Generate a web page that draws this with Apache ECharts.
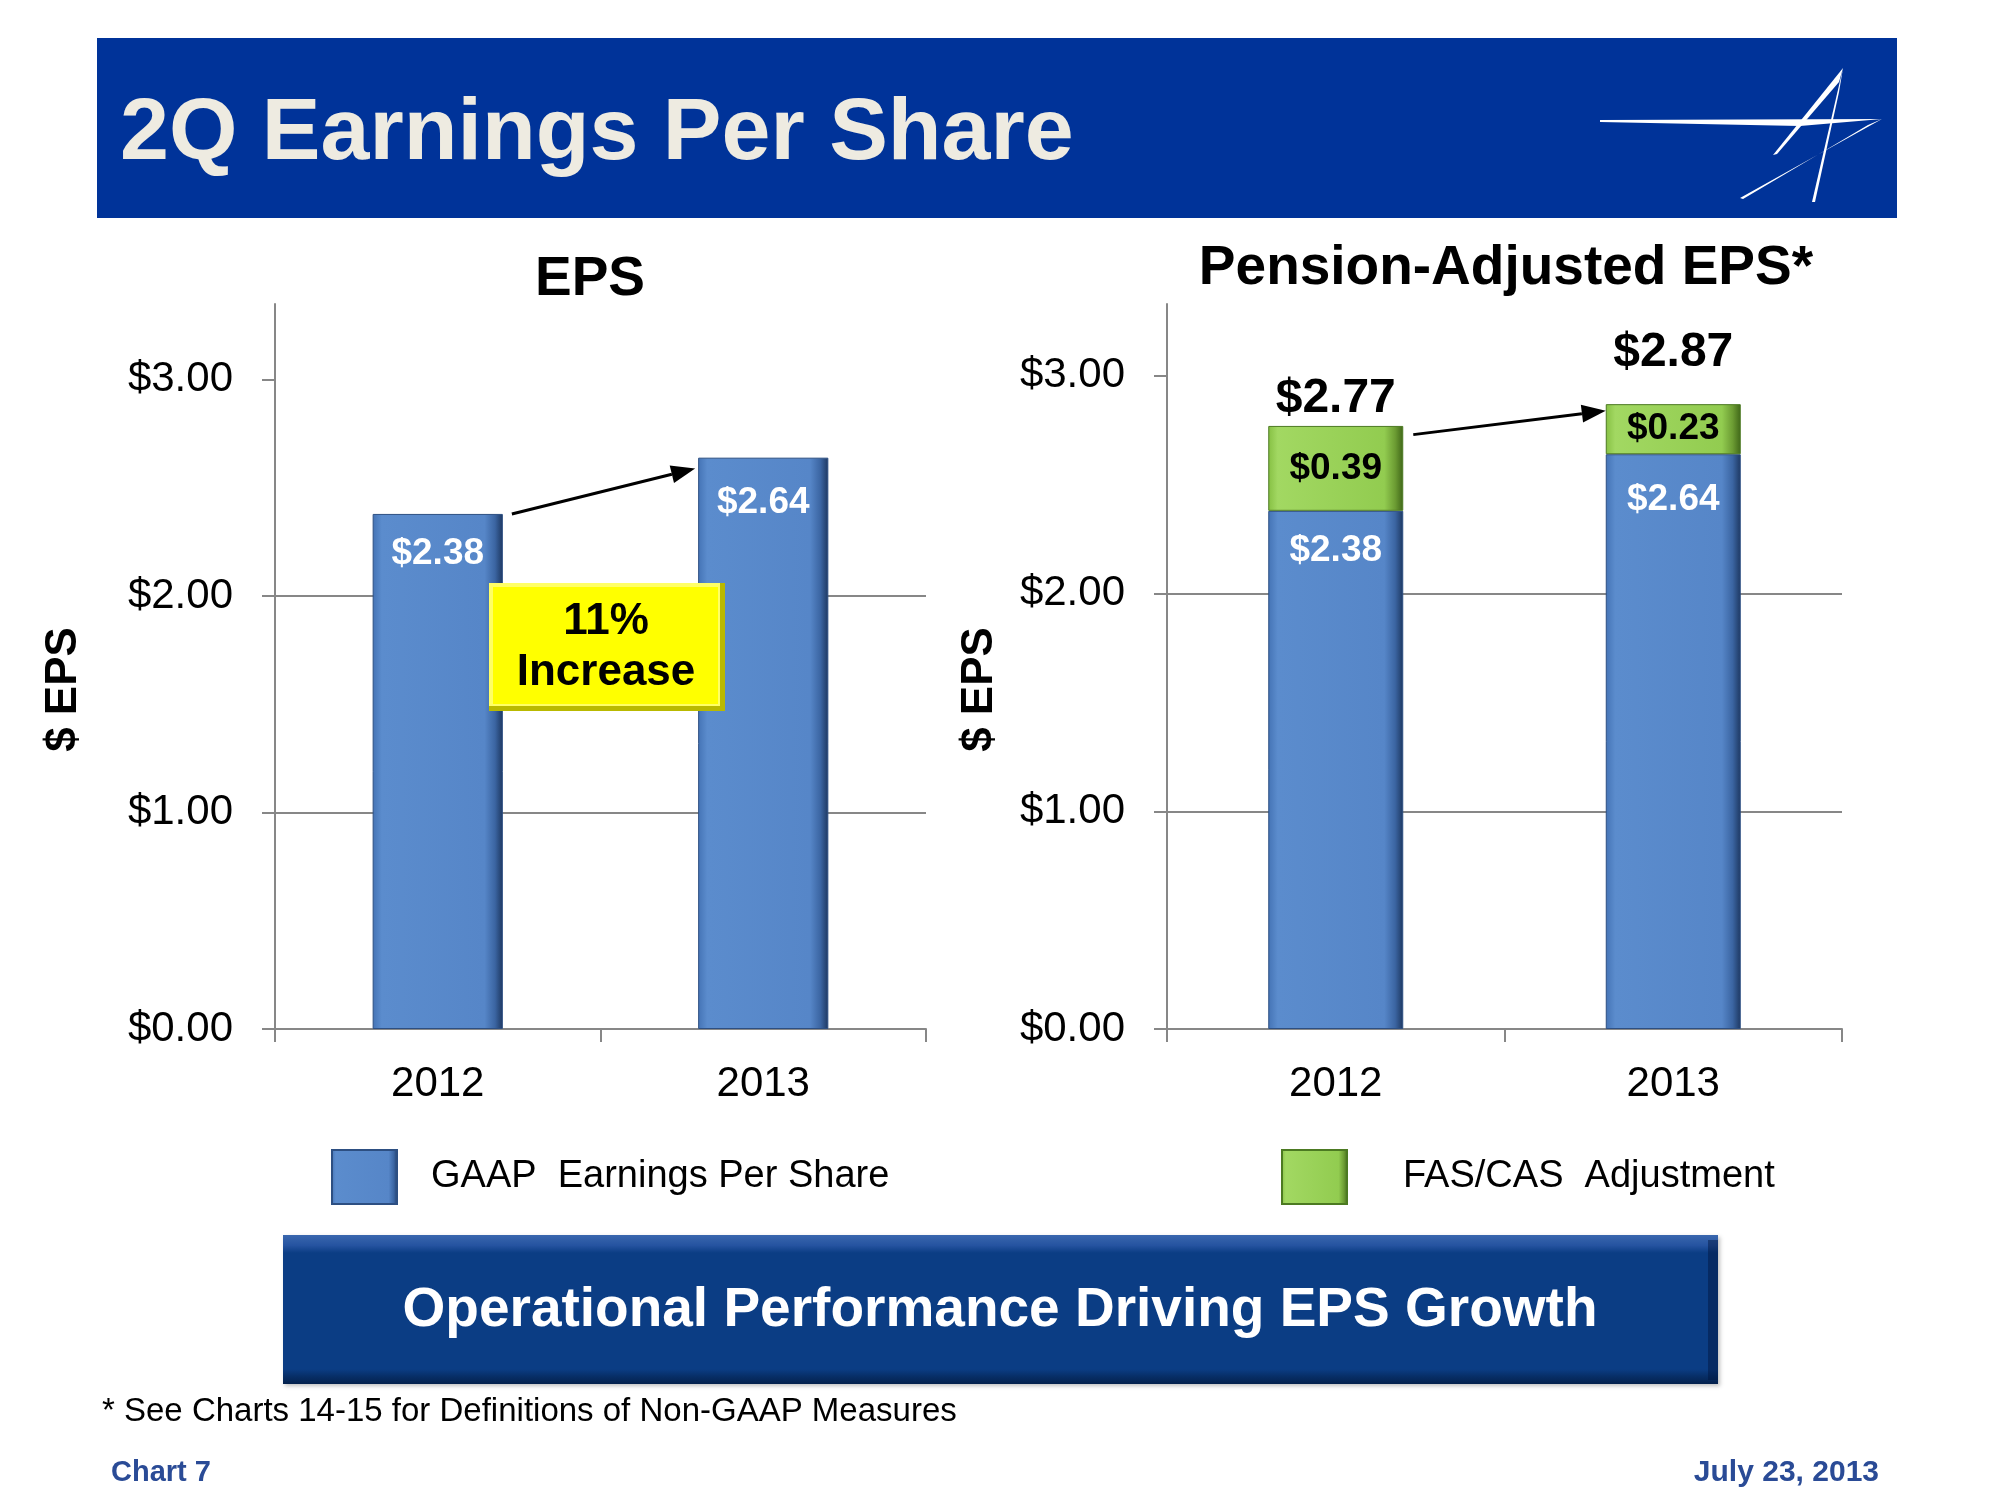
<!DOCTYPE html>
<html>
<head>
<meta charset="utf-8">
<script src="https://cdn.jsdelivr.net/npm/echarts@6/dist/echarts.min.js"></script>
<style>
html,body{margin:0;padding:0;background:#fff;}
#chart{width:2000px;height:1500px;}
</style>
</head>
<body>
<div id="chart"></div>
<script>
// ---------- data ----------
const categories = ['2012', '2013'];
const gaapEPS = [2.38, 2.64];
const fasCasAdjustment = [0.39, 0.23];
const pensionAdjustedEPS = [2.77, 2.87];
const yTickValues = [0, 1, 2, 3];
const seriesNames = ['GAAP  Earnings Per Share', 'FAS/CAS  Adjustment'];
const increaseText = ['11%', 'Increase'];
// arrow annotations in data units [category, value]
const leftArrow = { from: ['2012', 2.38], to: ['2013', 2.59] };
const rightArrow = { from: ['2012', 2.73], to: ['2013', 2.84] };

// ---------- styles ----------
const FONT = '"Liberation Sans", Arial, sans-serif';
const AXIS_GRAY = '#878787';
const blueFill = { type: 'linear', x: 0, y: 0, x2: 1, y2: 0, colorStops: [
  { offset: 0, color: '#4473B5' }, { offset: 0.07, color: '#5B8CCD' },
  { offset: 0.86, color: '#5686C8' }, { offset: 0.94, color: '#3B65A2' },
  { offset: 1, color: '#1D3760' }] };
const greenFill = { type: 'linear', x: 0, y: 0, x2: 1, y2: 0, colorStops: [
  { offset: 0, color: '#86C043' }, { offset: 0.07, color: '#A2D862' },
  { offset: 0.86, color: '#92CC50' }, { offset: 0.94, color: '#6C9C33' },
  { offset: 1, color: '#3F6618' }] };

const money = v => '$' + Number(v).toFixed(2);
const blueLabelGap = [21, 27];
const totalLabelGap = [3, 27];

function yAxisCfg(gridIndex, max, nameGap) {
  return {
    type: 'value', gridIndex, min: 0, max: max, interval: 1,
    name: '$ EPS', nameLocation: 'middle', nameRotate: 90, nameGap: nameGap,
    nameTextStyle: { fontFamily: FONT, fontWeight: 'bold', fontSize: 44, color: '#000', padding: [0, 46, 0, 0] },
    axisLine: { show: true, lineStyle: { color: AXIS_GRAY, width: 2 } },
    axisTick: { show: true, length: 13, lineStyle: { color: AXIS_GRAY, width: 2 }, customValues: yTickValues },
    axisLabel: { customValues: yTickValues, margin: 42, fontFamily: FONT, fontSize: 42, color: '#000', formatter: money },
    splitLine: { show: true, showMaxLine: false, lineStyle: { color: AXIS_GRAY, width: 2 } }
  };
}
function xAxisCfg(gridIndex) {
  return {
    type: 'category', gridIndex, data: categories,
    axisLine: { show: true, lineStyle: { color: AXIS_GRAY, width: 2 } },
    axisTick: { show: true, alignWithLabel: false, length: 13, lineStyle: { color: AXIS_GRAY, width: 2 } },
    axisLabel: { margin: 34, fontFamily: FONT, fontSize: 42, color: '#000' }
  };
}
const blueData = gaapEPS.map((v, i) => ({ value: v, label: { distance: blueLabelGap[i] } }));

const chart = echarts.init(document.getElementById('chart'), null, { renderer: 'canvas' });

const option = {
  backgroundColor: '#ffffff',
  animation: false,
  title: [
    { text: '2Q Earnings Per Share', left: 115, top: 86,
      textStyle: { fontFamily: FONT, fontWeight: 'bold', fontSize: 88, color: '#EEEBE1' } },
    { text: 'EPS', left: 585, top: 247, textAlign: 'center',
      textStyle: { fontFamily: FONT, fontWeight: 'bold', fontSize: 55, color: '#000' } },
    { text: 'Pension-Adjusted EPS*', left: 1501, top: 236, textAlign: 'center',
      textStyle: { fontFamily: FONT, fontWeight: 'bold', fontSize: 55, color: '#000' } }
  ],
  legend: [
    { data: [seriesNames[0]], left: 326, top: 1144, itemWidth: 65, itemHeight: 54,
      icon: 'rect', selectedMode: false,
      textStyle: { fontFamily: FONT, fontSize: 38, color: '#000', padding: [9, 0, 0, 29] } },
    { data: [seriesNames[1]], left: 1276, top: 1144, itemWidth: 65, itemHeight: 54,
      icon: 'rect', selectedMode: false,
      textStyle: { fontFamily: FONT, fontSize: 38, color: '#000', padding: [9, 0, 0, 51] } }
  ],
  grid: [
    { left: 275, top: 304, width: 651, height: 725 },
    { left: 1167, top: 304, width: 675, height: 725 }
  ],
  xAxis: [xAxisCfg(0), xAxisCfg(1)],
  yAxis: [yAxisCfg(0, 3.35, 189), yAxisCfg(1, 3.33, 165)],
  series: [
    { name: seriesNames[0], type: 'bar', xAxisIndex: 0, yAxisIndex: 0, data: blueData,
      barWidth: '40%',
      itemStyle: { color: blueFill, borderColor: '#2D4F82', borderWidth: 1 },
      label: { show: true, position: 'insideTop', distance: 20, formatter: p => money(p.value),
        fontFamily: FONT, fontWeight: 'bold', fontSize: 37, color: '#fff' } },
    { name: seriesNames[0], type: 'bar', xAxisIndex: 1, yAxisIndex: 1, data: blueData,
      stack: 'pa', barWidth: '40%',
      itemStyle: { color: blueFill, borderColor: '#2D4F82', borderWidth: 1 },
      label: { show: true, position: 'insideTop', distance: 20, formatter: p => money(p.value),
        fontFamily: FONT, fontWeight: 'bold', fontSize: 37, color: '#fff' } },
    { name: seriesNames[1], type: 'bar', xAxisIndex: 1, yAxisIndex: 1, data: fasCasAdjustment,
      stack: 'pa', barWidth: '40%',
      itemStyle: { color: greenFill, borderColor: '#4C7A22', borderWidth: 1 },
      label: { show: true, position: 'inside', formatter: p => money(p.value),
        fontFamily: FONT, fontWeight: 'bold', fontSize: 37, color: '#000' } },
    { name: 'Total', type: 'scatter', xAxisIndex: 1, yAxisIndex: 1, symbolSize: 0,
      itemStyle: { opacity: 1 },
      data: pensionAdjustedEPS.map((v, i) => ({ value: v, label: { distance: totalLabelGap[i] } })),
      label: { show: true, position: 'top', formatter: p => money(p.value), opacity: 1,
        fontFamily: FONT, fontWeight: 'bold', fontSize: 48, color: '#000' },
      silent: true }
  ]
};
chart.setOption(option);

// ---------- annotations (positions derived from axes) ----------
function px(gridIndex, pt) { return chart.convertToPixel({ gridIndex: gridIndex }, pt); }
function halfBar(gridIndex) {
  const a = px(gridIndex, [categories[0], 0]), b = px(gridIndex, [categories[1], 0]);
  return (b[0] - a[0]) * 0.4 / 2;
}
function arrow(gridIndex, def, gapStart, gapEnd) {
  const hb = halfBar(gridIndex);
  const s = px(gridIndex, def.from), e = px(gridIndex, def.to);
  const x1 = s[0] + hb + gapStart, y1 = s[1];
  const x2 = e[0] - hb - gapEnd, y2 = e[1];
  const ang = Math.atan2(y2 - y1, x2 - x1);
  const L = 24, W = 9;
  const bx = x2 - L * Math.cos(ang), by = y2 - L * Math.sin(ang);
  const nx = -Math.sin(ang), ny = Math.cos(ang);
  return [
    { type: 'line', z: 100, shape: { x1: x1, y1: y1, x2: bx, y2: by }, style: { stroke: '#000', lineWidth: 3 } },
    { type: 'polygon', z: 100, shape: { points: [[x2, y2], [bx + nx * W, by + ny * W], [bx - nx * W, by - ny * W]] }, style: { fill: '#000' } }
  ];
}

const graphics = [];
// header band
graphics.push({ type: 'rect', z: -10, shape: { x: 97, y: 38, width: 1800, height: 180 }, style: { fill: '#003399' } });
// logo
graphics.push({ type: 'polygon', z: -5, shape: { points: [[1600, 120], [1882, 119], [1800, 126], [1600, 122]] }, style: { fill: '#fff' } });
graphics.push({ type: 'polygon', z: -5, shape: { points: [[1882, 119], [1740, 198], [1743, 199], [1868, 125]] }, style: { fill: '#fff' } });
graphics.push({ type: 'polygon', z: -5, shape: { points: [[1843, 68], [1773, 155], [1777, 154], [1839, 82]] }, style: { fill: '#fff' } });
graphics.push({ type: 'polygon', z: -5, shape: { points: [[1843, 68], [1812, 202], [1815, 202], [1839, 92]] }, style: { fill: '#fff' } });

// yellow "11% Increase" box
graphics.push({ type: 'rect', z: 100, shape: { x: 489, y: 583, width: 236, height: 128 },
  style: { fill: '#B9B900' } });
graphics.push({ type: 'rect', z: 101, shape: { x: 489, y: 583, width: 231, height: 123 },
  style: { fill: '#FFFF66' } });
graphics.push({ type: 'rect', z: 102, shape: { x: 493, y: 587, width: 225, height: 117 },
  style: { fill: '#FFFF00' } });
graphics.push({ type: 'text', z: 103, style: { text: increaseText[0], x: 606, y: 622, textAlign: 'center', textVerticalAlign: 'middle',
  font: 'bold 44px ' + FONT, fill: '#000' } });
graphics.push({ type: 'text', z: 103, style: { text: increaseText[1], x: 606, y: 673, textAlign: 'center', textVerticalAlign: 'middle',
  font: 'bold 44px ' + FONT, fill: '#000' } });

// arrows
arrow(0, leftArrow, 9, 3).forEach(g => graphics.push(g));
arrow(1, rightArrow, 10, 0).forEach(g => graphics.push(g));

// bottom banner
graphics.push({ type: 'rect', z: 10, shape: { x: 283, y: 1235, width: 1435, height: 149 },
  style: { fill: { type: 'linear', x: 0, y: 0, x2: 0, y2: 1, colorStops: [
    { offset: 0, color: '#3A67AE' }, { offset: 0.07, color: '#2553A0' }, { offset: 0.12, color: '#0B3D84' },
    { offset: 0.9, color: '#0B3D84' }, { offset: 0.95, color: '#072E66' }, { offset: 1, color: '#04214C' }] },
    shadowColor: 'rgba(0,0,0,0.25)', shadowBlur: 4, shadowOffsetX: 2, shadowOffsetY: 2 } });
graphics.push({ type: 'rect', z: 11, shape: { x: 1708, y: 1240, width: 10, height: 140 },
  style: { fill: 'rgba(0,20,60,0.45)' } });
graphics.push({ type: 'text', z: 12, style: { text: 'Operational Performance Driving EPS Growth', x: 1000, y: 1311,
  textAlign: 'center', textVerticalAlign: 'middle', font: 'bold 55px ' + FONT, fill: '#fff' } });

// footnote & footer
graphics.push({ type: 'text', style: { text: '* See Charts 14-15 for Definitions of Non-GAAP Measures', x: 102, y: 1412,
  textVerticalAlign: 'middle', font: '33px ' + FONT, fill: '#000' } });
graphics.push({ type: 'text', style: { text: 'Chart 7', x: 111, y: 1473,
  textVerticalAlign: 'middle', font: 'bold 29px ' + FONT, fill: '#2A4B96' } });
graphics.push({ type: 'text', style: { text: 'July 23, 2013', x: 1879, y: 1473, textAlign: 'right',
  textVerticalAlign: 'middle', font: 'bold 30px ' + FONT, fill: '#2A4B96' } });

chart.setOption({ graphic: graphics });
</script>
</body>
</html>
